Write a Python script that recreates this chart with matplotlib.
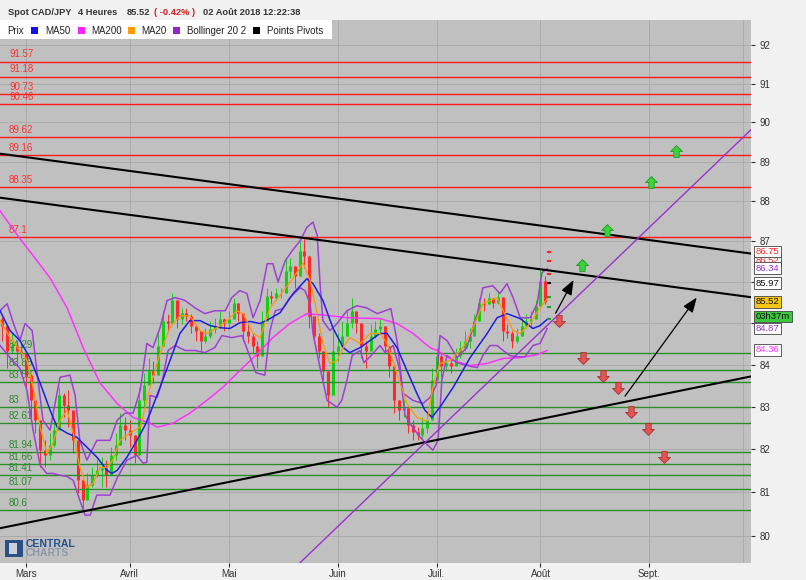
import numpy as np
import matplotlib
matplotlib.use("Agg")
import matplotlib.pyplot as plt
from matplotlib.patches import Rectangle
from matplotlib.path import Path
from matplotlib.ticker import FixedLocator, NullLocator, NullFormatter, FuncFormatter

plt.rcParams['font.family'] = ['Liberation Sans', 'DejaVu Sans']

# x unit = trading days counted from 1 Mar 2018 (weekends removed, like the source chart)
first_day = -5
open0 = 85.10
close = [84.94, 84.34, 84.46, 84.34, 84.29, 83.75, 83.15, 82.68, 81.98, 81.86,
         82.10, 82.45, 83.27, 83.04, 82.92, 82.21, 81.28, 80.82, 81.17, 81.40,
         81.51, 81.56, 81.40, 81.86, 82.10, 82.56, 82.45, 82.33, 81.86, 83.15,
         83.51, 83.86, 83.75, 84.46, 85.06, 85.01, 85.55, 85.11, 85.25, 85.18,
         84.94, 84.82, 84.58, 84.70, 84.87, 84.94, 85.11, 85.01, 85.11, 85.50,
         85.25, 84.82, 84.70, 84.46, 84.22, 85.06, 85.67, 85.62, 85.74, 85.74,
         86.28, 86.40, 86.15, 86.77, 86.65, 85.18, 84.70, 84.34, 83.86, 83.27,
         84.34, 84.46, 84.70, 85.01, 85.30, 85.01, 84.46, 84.34, 84.70, 84.87,
         84.94, 84.46, 83.98, 83.15, 82.92, 82.97, 82.56, 82.40, 82.33, 82.50,
         82.68, 83.63, 84.22, 83.98, 84.03, 83.98, 84.22, 84.39, 84.58, 84.70,
         85.06, 85.50, 85.47, 85.60, 85.50, 85.64, 84.82, 84.77, 84.58, 84.70,
         84.94, 85.06, 85.11, 85.42, 86.03, 85.52]
high = [85.14, 84.82, 84.75, 84.58, 84.51, 84.27, 83.46, 82.99, 82.38, 82.21,
        82.38, 82.68, 83.46, 83.32, 83.39, 82.52, 81.58, 81.12, 81.44, 81.58,
        81.75, 81.82, 81.75, 82.05, 82.38, 82.85, 82.75, 82.68, 82.05, 83.46,
        83.79, 84.17, 84.10, 84.75, 85.30, 85.23, 85.72, 85.37, 85.37, 85.37,
        85.23, 84.99, 84.75, 84.89, 85.06, 85.13, 85.30, 85.13, 85.30, 85.62,
        85.47, 85.06, 84.99, 84.75, 84.58, 85.30, 85.86, 85.79, 85.86, 85.86,
        86.59, 86.59, 86.35, 87.02, 87.10, 85.55, 85.06, 84.75, 84.10, 83.70,
        84.89, 84.75, 85.06, 85.30, 85.62, 85.30, 84.75, 84.58, 84.99, 85.06,
        85.13, 84.75, 84.27, 83.46, 83.15, 83.15, 82.85, 82.68, 82.52, 82.75,
        82.85, 83.93, 84.41, 84.27, 84.17, 84.17, 84.41, 84.58, 84.82, 84.89,
        85.23, 85.62, 85.62, 85.72, 85.62, 85.79, 85.13, 84.99, 84.82, 84.89,
        85.13, 85.23, 85.30, 85.55, 86.32, 86.15]
low = [84.58, 83.93, 84.27, 84.10, 84.17, 83.46, 82.75, 82.38, 81.58, 81.58,
       81.75, 82.05, 82.75, 82.75, 82.52, 81.91, 80.98, 80.59, 80.82, 81.12,
       81.35, 81.12, 81.12, 81.58, 81.75, 82.21, 82.21, 82.05, 81.68, 82.52,
       82.99, 83.63, 83.56, 84.10, 84.75, 84.82, 85.16, 84.89, 84.99, 85.06,
       84.75, 84.58, 84.29, 84.51, 84.65, 84.75, 84.89, 84.82, 84.89, 85.23,
       85.06, 84.58, 84.51, 84.27, 83.93, 84.58, 85.47, 85.47, 85.55, 85.62,
       85.86, 86.10, 85.86, 86.52, 86.35, 84.89, 84.51, 84.17, 83.63, 83.00,
       83.56, 84.10, 84.41, 84.75, 84.89, 84.75, 84.17, 83.93, 84.51, 84.65,
       84.75, 84.27, 83.70, 82.85, 82.68, 82.75, 82.38, 82.21, 82.21, 82.21,
       82.38, 82.85, 83.93, 83.70, 83.86, 83.79, 84.03, 84.17, 84.34, 84.41,
       84.75, 85.30, 85.30, 85.47, 85.37, 85.47, 84.58, 84.65, 84.41, 84.51,
       84.75, 84.89, 84.89, 85.16, 85.72, 85.47]

ma20_t = [-5.5, -3.4, -1.3, 0.2, 1.5, 3.0, 4.4, 5.7, 7.2, 8.7, 10.0, 11.4, 12.9, 14.2, 15.7,
          17.2, 18.4, 19.9, 22.0, 24.2, 26.3, 28.4, 30.5, 32.6, 34.7, 36.9, 38.3, 40.5, 42.6,
          44.7, 46.0, 48.1, 49.6, 51.7, 53.8, 56.6, 58.7, 60.2, 61.7, 62.9, 64.4, 65.9, 67.2,
          68.6, 70.8, 72.9, 75.0, 76.5, 78.6, 80.7, 82.8, 85.0, 86.2, 87.7, 89.8, 92.6, 94.7,
          96.8, 99.8, 101.1, 103.2, 104.7, 106.8, 108.9, 110.6]
ma20_v = [85.06, 84.65, 84.34, 84.10, 83.46, 82.52, 81.91, 82.14, 82.68, 82.92, 82.38, 81.58,
          81.12, 81.21, 81.58, 81.58, 81.75, 82.21, 82.38, 82.52, 83.46, 84.27, 84.89, 85.18,
          85.18, 84.82, 84.75, 84.89, 85.06, 85.30, 85.23, 84.75, 84.65, 85.37, 85.67, 86.10,
          86.47, 86.03, 85.23, 84.51, 84.03, 84.10, 84.41, 84.65, 84.51, 84.75, 84.75, 84.51,
          83.79, 83.08, 82.75, 82.66, 83.46, 84.03, 84.10, 84.41, 84.89, 85.47, 85.62, 85.30,
          84.82, 84.75, 84.99, 85.37, 85.62]

ma50_t = [-5.5, -3.4, -1.3, 0.8, 3.0, 5.1, 6.6, 8.7, 10.8, 12.9, 15.0, 17.2, 18.2, 19.3, 21.4,
          23.5, 25.2, 26.3, 28.4, 30.5, 32.6, 34.7, 36.9, 39.0, 41.1, 43.2, 45.3, 47.5, 49.6,
          51.7, 53.8, 56.6, 59.5, 60.8, 62.9, 65.0, 67.2, 68.6, 70.8, 72.9, 75.0, 76.5, 78.6,
          80.7, 82.8, 84.5, 86.0, 87.7, 90.5, 94.1, 97.7, 99.8, 101.9, 104.7, 107.4, 108.9, 110.6]
ma50_v = [85.30, 84.82, 84.58, 84.17, 83.56, 82.92, 82.52, 82.38, 82.28, 82.05, 81.82, 81.51,
          81.44, 81.51, 81.82, 82.21, 82.56, 82.85, 83.46, 84.10, 84.75, 85.06, 85.06, 84.94,
          84.89, 84.87, 85.01, 85.04, 84.99, 85.11, 85.25, 85.72, 86.08, 85.96, 85.55, 84.89,
          84.41, 84.29, 84.41, 84.58, 84.75, 84.75, 84.41, 83.86, 83.32, 82.92, 82.75, 82.99,
          83.46, 84.17, 84.75, 85.13, 85.23, 85.11, 84.87, 84.94, 85.11]

ma200_t = [-5.5, -1.3, 1.5, 5.1, 8.7, 12.1, 15.7, 19.3, 22.7, 26.3, 27.8, 31.1, 34.7, 38.3,
           41.7, 45.3, 48.9, 52.3, 55.9, 59.5, 64.4, 68.0, 75.0, 78.6, 82.0, 85.6, 87.1, 90.5,
           94.1, 97.7, 101.1, 104.7, 108.3, 110.4]
ma200_v = [87.76, 87.07, 86.65, 86.10, 85.37, 84.41, 83.56, 83.08, 82.75, 82.61, 82.52, 82.61,
           82.85, 83.15, 83.46, 83.86, 84.25, 84.65, 84.99, 85.23, 85.18, 85.13, 85.11, 84.99,
           84.75, 84.41, 84.34, 84.10, 83.98, 84.03, 84.15, 84.17, 84.24, 84.34]

bb_up_t = [-5.5, -4.0, -2.5, -1.3, -0.2, 1.3, 2.3, 3.6, 5.1, 6.1, 7.2, 9.3, 10.4, 11.4, 12.9,
           15.0, 17.8, 19.3, 21.0, 22.7, 24.2, 25.6, 26.9, 28.4, 29.9, 31.6, 33.7, 35.8, 37.9,
           40.0, 42.2, 43.6, 45.3, 46.8, 48.1, 49.6, 51.1, 52.3, 53.4, 54.9, 56.4, 58.1, 59.5,
           60.8, 61.7, 62.3, 62.9, 64.4, 65.9, 68.0, 70.1, 72.2, 74.4, 76.1, 77.3, 78.6, 79.9,
           82.0, 84.1, 85.6, 86.9, 87.7, 89.2, 91.3, 93.4, 95.6, 96.8, 98.9, 100.4, 101.9,
           103.2, 104.7, 106.8, 108.3, 109.3, 110.4]
bb_up_v = [85.30, 85.47, 84.94, 84.58, 84.99, 84.82, 83.86, 82.68, 82.45, 83.04, 83.70, 83.75,
           83.27, 82.21, 81.75, 82.21, 82.21, 82.68, 82.85, 82.85, 83.39, 84.51, 84.41, 84.89,
           85.55, 85.62, 85.55, 85.37, 85.23, 85.30, 85.30, 85.62, 85.79, 85.72, 85.13, 85.55,
           86.45, 86.45, 86.00, 86.52, 86.77, 87.02, 87.35, 87.48, 87.15, 85.96, 85.06, 84.82,
           84.99, 85.30, 85.42, 85.37, 85.23, 85.30, 85.35, 84.58, 83.32, 83.15, 83.08, 83.22,
           83.51, 84.70, 84.58, 84.17, 84.41, 85.23, 85.86, 85.91, 85.72, 85.96, 85.62, 85.13,
           85.13, 85.47, 86.23, 86.33]

bb_lo_t = [-5.5, -3.4, -1.3, 0.2, 1.5, 3.0, 4.4, 5.7, 7.2, 8.7, 10.0, 11.4, 12.5, 13.6, 15.0,
           17.8, 19.3, 21.4, 23.5, 24.8, 25.6, 26.3, 27.8, 29.0, 30.1, 31.6, 33.7, 35.8, 37.9,
           40.0, 41.5, 43.6, 45.8, 47.5, 48.7, 50.6, 51.7, 52.8, 54.4, 55.9, 58.1, 59.1, 60.2,
           60.8, 62.3, 63.8, 65.9, 66.9, 68.0, 69.1, 70.8, 71.6, 72.9, 75.0, 76.1, 77.8, 79.2,
           80.3, 82.0, 84.1, 86.2, 87.3, 88.1, 89.2, 91.3, 93.4, 95.6, 96.8, 98.3, 99.8, 101.1,
           102.5, 104.0, 105.7, 107.4, 108.9, 110.4]
bb_lo_v = [84.46, 84.17, 83.91, 83.39, 82.45, 81.63, 81.44, 81.44, 81.40, 81.37, 81.28, 80.82,
           80.48, 80.48, 80.94, 80.94, 81.33, 81.75, 81.86, 81.68, 81.70, 83.27, 83.22, 83.68,
           84.34, 84.46, 84.34, 84.34, 84.29, 84.41, 84.70, 84.65, 84.70, 84.17, 83.81, 83.75,
           84.82, 85.30, 85.35, 85.62, 85.86, 85.79, 85.47, 84.75, 83.93, 83.15, 82.99, 83.15,
           83.63, 84.22, 84.34, 84.05, 84.19, 84.46, 84.29, 84.46, 83.86, 82.80, 82.50, 82.21,
           81.98, 82.21, 83.63, 84.22, 84.05, 83.98, 83.93, 84.22, 84.46, 84.46, 84.34, 84.22,
           84.19, 84.19, 84.46, 84.51, 84.87]

# pivot levels
red_levels = [91.57, 91.18, 90.73, 90.46, 89.62, 89.16, 88.35, 87.1]
green_levels = [84.29, 83.88, 83.58, 83.0, 82.61, 81.94, 81.66, 81.41, 81.07, 80.6]

# trend lines (two points each)
trend_black = [((-5.5, 153.6), (89.20, 86.70)),
               ((-5.5, 153.6), (88.09, 85.63)),
               ((-5.5, 153.6), (80.18, 83.72))]
trend_purple = ((58.0, 153.6), (79.39, 89.81))

# forecast arrows
green_up_t = [117.8, 123.1, 132.4, 137.7]
green_up_v = [86.43, 87.29, 88.49, 89.27]
red_down_t = [112.9, 118.0, 122.2, 125.4, 128.2, 131.8, 135.2]
red_down_v = [85.06, 84.17, 83.74, 83.44, 82.87, 82.47, 81.82]
black_arrows = [((112.2, 85.24), (116.0, 86.05)), ((126.9, 83.25), (142.1, 85.62))]

# today's pivots on the last candle
day_pivots = [86.75, 86.52, 86.20, 85.97, 85.64, 85.40, 85.10]
day_pivot_cols = ['#ff2020', '#ff2020', '#ff2020', '#111111', '#20a020', '#20a020', '#20a020']

month_starts = ['2018-03-01', '2018-04-01', '2018-05-01', '2018-06-01',
                '2018-07-01', '2018-08-01', '2018-09-01']
month_names = ['Mars', 'Avril', 'Mai', 'Juin', 'Juil.', 'Août', 'Sept.']
hidden_ticks = [85, 86]   # covered by the value boxes

# right side value boxes: value, text, face, text colour (later ones drawn on top)
right_boxes = [(86.52, '86.52', 'white', '#ff2020'),
               (86.75, '86.75', 'white', '#ff2020'),
               (86.34, '86.34', 'white', '#9933cc'),
               (85.97, '85.97', 'white', '#111111'),
               (85.52, '85.52', '#f5c518', '#111111'),
               (84.87, '84.87', 'white', '#9933cc'),
               (85.16, '03h37m', '#3cc83c', '#111111'),
               (84.36, '84.36', 'white', '#ff33ff')]


fig = plt.figure(figsize=(8.06, 5.8), dpi=100)
fig.patch.set_facecolor('#f1f1f1')
ax = fig.add_axes([0, 17 / 580, 751 / 806, 543 / 580])
ax.set_facecolor('#c0c0c0')
ax.set_yscale('log')
ax.set_ylim(79.39, 92.66)
ax.set_xlim(-5.51, 153.6)
for s in ax.spines.values():
    s.set_visible(False)

# axes / grid
month_pos = np.busday_count('2018-03-01', month_starts)
oct_pos = np.busday_count('2018-03-01', '2018-10-01')
ax.set_xticks(month_pos)
ax.set_xticklabels(month_names)
ax.yaxis.tick_right()
ax.yaxis.set_major_locator(FixedLocator(np.arange(80, 93)))
ax.yaxis.set_major_formatter(FuncFormatter(
    lambda v, p: '' if round(v) in hidden_ticks else f'{v:.0f}'))
ax.yaxis.set_minor_locator(NullLocator())
ax.yaxis.set_minor_formatter(NullFormatter())
ax.tick_params(axis='y', length=3, pad=3, labelsize=7, colors='#333333')
ax.tick_params(axis='x', length=3, pad=1, labelsize=7, colors='#333333')
ax.grid(True, color='#a9a9a9', lw=0.6, zorder=0)
ax.set_axisbelow(True)
ax.axvline(oct_pos, color='#a9a9a9', lw=0.6, zorder=0)

# candles
days = np.arange(len(close)) + first_day
c = np.array(close)
o = np.r_[open0, c[:-1]]
hi = np.maximum(np.array(high), np.maximum(o, c))
lo = np.minimum(np.array(low), np.minimum(o, c))
cols = np.where(c >= o, '#12cf12', '#ff2a2a')
ax.vlines(days, lo, hi, colors=cols, lw=0.7, zorder=2)
ax.vlines(days, np.minimum(o, c), np.maximum(o, c), colors=cols, lw=2.2, zorder=2.1)

# pivot levels + labels
for v in red_levels:
    ax.axhline(v, color='#ff1a1a', lw=1, zorder=2.5)
    ax.annotate(f'{v:g}', xy=(0, v), xycoords=('axes fraction', 'data'), xytext=(6.5, 1.6),
                textcoords='offset points', fontsize=7, color='#ff3030', va='bottom')
for v in green_levels:
    ax.axhline(v, color='#2a8f2a', lw=1, zorder=2.5)
    ax.annotate(f'{v:g}', xy=(0, v), xycoords=('axes fraction', 'data'), xytext=(6.5, 1.6),
                textcoords='offset points', fontsize=7, color='#2a8a2a', va='bottom')

# indicators
ax.plot(ma200_t, ma200_v, color='#ff33ff', lw=1.1, zorder=3)
ax.plot(bb_up_t, bb_up_v, color='#a040d0', lw=1.1, zorder=3)
ax.plot(bb_lo_t, bb_lo_v, color='#a040d0', lw=1.1, zorder=3)
ax.plot(ma50_t, ma50_v, color='#2020e0', lw=1.1, zorder=3.1)
ax.plot(ma20_t, ma20_v, color='#ff9900', lw=0.9, zorder=3.2)

# trend lines
for tx, tv in trend_black:
    ax.plot(tx, tv, color='black', lw=1.5, zorder=3.5)
ax.plot(trend_purple[0], trend_purple[1], color='#9933cc', lw=1.0, zorder=3.5)

# today's pivot dashes
ax.hlines(day_pivots, 110.3, 111.2, colors=day_pivot_cols, lw=1.5, zorder=4)

# forecast block arrows
up_arrow = Path([(0, 1), (1, 0), (0.45, 0), (0.45, -1), (-0.45, -1), (-0.45, 0), (-1, 0), (0, 1)])
down_arrow = Path([(0, -1), (1, 0), (0.45, 0), (0.45, 1), (-0.45, 1), (-0.45, 0), (-1, 0), (0, -1)])
ax.plot(green_up_t, green_up_v, ls='none', marker=up_arrow, ms=8.5,
        mfc='#3ad43a', mec='#1f9a1f', mew=0.6, zorder=4)
ax.plot(red_down_t, red_down_v, ls='none', marker=down_arrow, ms=8.5,
        mfc='#e35555', mec='#a83030', mew=0.6, zorder=4)
for start, tip in black_arrows:
    ax.annotate('', xy=tip, xytext=start,
                arrowprops=dict(arrowstyle='-|>,head_length=0.9,head_width=0.35',
                                color='black', lw=0.9, mutation_scale=10,
                                shrinkA=0, shrinkB=0), zorder=4)

# value boxes on the right axis
for i, (v, txt, fc, tc) in enumerate(right_boxes):
    ax.annotate(txt, xy=(1, v), xycoords=('axes fraction', 'data'), xytext=(3.5, 0),
                textcoords='offset points', ha='left', va='center', fontsize=6.8, color=tc,
                bbox=dict(boxstyle='square,pad=0.15', fc=fc, ec='#444444', lw=0.6),
                annotation_clip=False, zorder=10 + i)

# header line
hy = 1 - 12.5 / 580
fig.text(8 / 806, hy, 'Spot CAD/JPY', fontsize=6.7, weight='bold', color='#333333', va='center')
fig.text(78 / 806, hy, '4 Heures', fontsize=6.7, weight='bold', color='#333333', va='center')
fig.text(127 / 806, hy, '85.52', fontsize=6.7, weight='bold', color='#333333', va='center')
fig.text(154 / 806, hy, '( -0.42% )', fontsize=6.7, weight='bold', color='#cc2020', va='center')
fig.text(203 / 806, hy, '02 Août 2018 12:22:38', fontsize=6.7, weight='bold', color='#333333',
         va='center')

# legend strip
fig.add_artist(Rectangle((0, 1 - 39 / 580), 332 / 806, 19 / 580, transform=fig.transFigure,
                         fc='white', ec='none', zorder=5))
ly = 1 - 30.5 / 580
fig.text(7 / 806, ly, 'Prix', fontsize=7, color='#222222', va='center', zorder=6)
legend_items = [(31, '#1010ee', 'MA50', 45), (78, '#ff22ff', 'MA200', 91),
                (128, '#ff9900', 'MA20', 141), (173, '#9922cc', 'Bollinger 20 2', 187),
                (253, '#000000', 'Points Pivots', 267)]
for sx, col, name, tx in legend_items:
    fig.add_artist(Rectangle((sx / 806, 1 - 33.5 / 580), 7 / 806, 6 / 580,
                             transform=fig.transFigure, fc=col, ec='none', zorder=6))
    fig.text(tx / 806, ly, name, fontsize=7, color='#222222', va='center', zorder=6)

# logo
fig.add_artist(Rectangle((5 / 806, 1 - 557 / 580), 18 / 806, 17 / 580,
                         transform=fig.transFigure, fc='#2b5184', ec='none', zorder=6))
fig.add_artist(Rectangle((9 / 806, 1 - 554 / 580), 8 / 806, 11 / 580,
                         transform=fig.transFigure, fc='#c8d2de', ec='none', zorder=6))
fig.text(26 / 806, 1 - 544 / 580, 'CENTRAL', fontsize=7.5, weight='bold', color='#24508e',
         va='center', zorder=6)
fig.text(26 / 806, 1 - 553.5 / 580, 'CHARTS', fontsize=7.5, weight='bold', color='#8c98a8',
         va='center', zorder=6)

fig.savefig('out.png', dpi=100, facecolor=fig.get_facecolor())
